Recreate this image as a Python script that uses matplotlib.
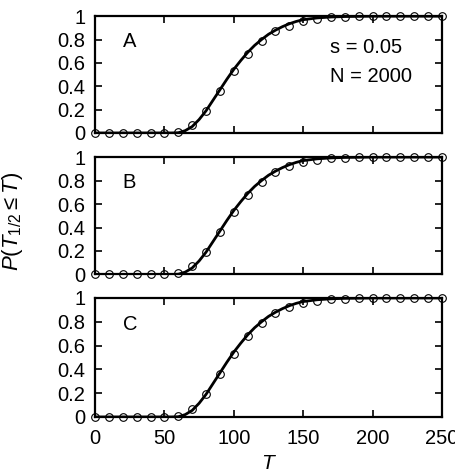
import numpy as np
import matplotlib
matplotlib.use('Agg')
import matplotlib.pyplot as plt

plt.rcParams['font.family'] = ['Liberation Sans', 'DejaVu Sans']
plt.rcParams['mathtext.fontset'] = 'custom'
plt.rcParams['mathtext.rm'] = 'Liberation Sans'
plt.rcParams['mathtext.it'] = 'Liberation Sans:italic'

# simulated points (open circles)
T_pts = [0, 10, 20, 30, 40, 50, 60, 70, 80, 90, 100, 110, 120, 130, 140,
         150, 160, 170, 180, 190, 200, 210, 220, 230, 240, 250]
P_pts = [0, 0, 0, 0, 0, 0, 0.01, 0.07, 0.19, 0.36, 0.53, 0.68, 0.79, 0.87,
         0.92, 0.955, 0.975, 0.99, 0.995, 1.0, 1.0, 1.0, 1.0, 1.0, 1.0, 1.0]

# theory curve (solid line)
T_line = [0, 55, 60, 65, 70, 75, 80, 85, 90, 95, 100, 105, 110, 115, 120,
          125, 130, 135, 140, 145, 150, 160, 170, 180, 200, 250]
P_line = [0, 0, 0.002, 0.02, 0.055, 0.115, 0.19, 0.28, 0.37, 0.46, 0.545,
          0.62, 0.69, 0.75, 0.80, 0.845, 0.88, 0.91, 0.935, 0.955, 0.97,
          0.985, 0.993, 0.997, 1.0, 1.0]

panels = ['A', 'B', 'C']
params = ['s = 0.05', 'N = 2000']

fig = plt.figure(figsize=(4.56, 4.76), dpi=100)
rects = [[0.2083, 0.7206, 0.761, 0.2454],
         [0.2083, 0.4234, 0.761, 0.2466],
         [0.2083, 0.1240, 0.761, 0.2500]]

for i, lab in enumerate(panels):
    ax = fig.add_axes(rects[i])
    ax.plot(T_line, P_line, color='black', lw=2.0, zorder=3)
    ax.plot(T_pts, P_pts, 'o', mfc='none', mec='black', ms=5.5, mew=0.8,
            clip_on=False, zorder=4)
    ax.set_xlim(0, 250)
    ax.set_ylim(0, 1)
    ax.set_yticks([0, 0.2, 0.4, 0.6, 0.8, 1])
    ax.set_yticklabels(['0', '0.2', '0.4', '0.6', '0.8', '1'])
    ax.set_xticks([0, 50, 100, 150, 200, 250])
    ax.tick_params(direction='in', length=5, width=1.2, top=True, right=True,
                   labelsize=14.5)
    ax.tick_params(axis='y', pad=7)
    ax.tick_params(axis='x', pad=9)
    for sp in ax.spines.values():
        sp.set_linewidth(1.6)
    if i < 2:
        ax.tick_params(labelbottom=False)
    ax.text(20, 0.78, lab, fontsize=14.5, va='center', ha='left')
    if i == 0:
        ax.text(169, 0.735, params[0], fontsize=14.5, va='center', ha='left')
        ax.text(169, 0.48, params[1], fontsize=14.5, va='center', ha='left')
    if i == 2:
        ax.set_xlabel(r'$T$', fontsize=15, labelpad=4)

fig.text(0.027, 0.535, r'$P(T_{1/2} \leq T)$', rotation=90, fontsize=16,
         ha='center', va='center')

fig.savefig('out.png', dpi=100)
